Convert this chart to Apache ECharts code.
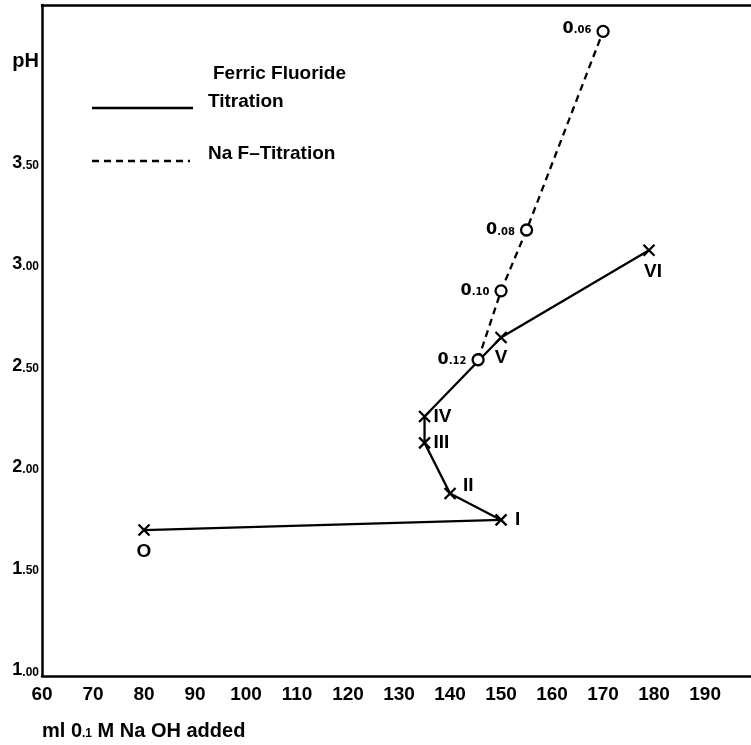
<!DOCTYPE html>
<html>
<head>
<meta charset="utf-8">
<script src="https://cdn.jsdelivr.net/npm/echarts@6/dist/echarts.min.js"></script>
<style>
html,body{margin:0;padding:0;background:#fff;}
#c{width:751px;height:745px;}
</style>
</head>
<body>
<div id="c"></div>
<script>
// ---- data ----
const titrationX = [80, 150, 140, 135, 135, 150, 179];
const titrationY = [1.69, 1.74, 1.87, 2.12, 2.25, 2.64, 3.07];
const titrationLabels = ['O', 'I', 'II', 'III', 'IV', 'V', 'VI'];
const nafX = [145.5, 150, 155, 170];
const nafY = [2.53, 2.87, 3.17, 4.15];
const nafLabels = ['0.12', '0.10', '0.08', '0.06'];
const xTicks = [60, 70, 80, 90, 100, 110, 120, 130, 140, 150, 160, 170, 180, 190];
const yTicks = [1.0, 1.5, 2.0, 2.5, 3.0, 3.5, 4.0];
const yTickText = ['1.00', '1.50', '2.00', '2.50', '3.00', '3.50', 'pH'];
const legendTitle = 'Ferric Fluoride';
const seriesNames = ['Titration', 'Na F\u2013Titration'];

// ---- layout / style ----
const FONT = 'DejaVu Sans';
const LFONT = 'Liberation Sans';
const labelPlace = {
  'O':   {position: 'bottom', distance: 4},
  'I':   {position: 'right', distance: 6},
  'II':  {position: 'right', distance: 5, offset: [0, -8]},
  'III': {position: 'right', distance: 1},
  'IV':  {position: 'right', distance: 1},
  'V':   {position: 'bottom', distance: 3},
  'VI':  {position: 'bottom', distance: 4, offset: [4, 0]}
};
const crossPath = 'path://M0,0L10,10M10,0L0,10';

const titrationData = titrationX.map((x, i) => {
  const p = labelPlace[titrationLabels[i]];
  return {
    value: [x, titrationY[i]],
    label: Object.assign({show: true, formatter: titrationLabels[i]}, p)
  };
});
const nafData = nafX.map((x, i) => ({
  value: [x, nafY[i]],
  label: {
    show: true, position: 'left', distance: 5,
    offset: i === nafX.length - 1 ? [0, -3] : [0, 0],
    formatter: '{a|' + nafLabels[i].slice(0, 1) + '}{b|' + nafLabels[i].slice(1) + '}'
  }
}));

const chart = echarts.init(document.getElementById('c'));
chart.setOption({
  animation: false,
  backgroundColor: '#fff',
  grid: {left: 42, right: 0, top: 5, bottom: 69},
  xAxis: [{
    type: 'value', min: 60, max: 199,
    axisLine: {show: true, onZero: false, lineStyle: {color: '#000', width: 2.5}},
    axisTick: {show: false},
    splitLine: {show: false},
    axisLabel: {
      customValues: xTicks, margin: 9,
      color: '#000', fontFamily: LFONT, fontWeight: 'bold', fontSize: 19
    }
  }, {
    type: 'value', min: 60, max: 199, position: 'top',
    axisLine: {show: true, onZero: false, lineStyle: {color: '#000', width: 2.5}},
    axisTick: {show: false}, axisLabel: {show: false}, splitLine: {show: false}
  }],
  yAxis: {
    type: 'value', min: 0.97, max: 4.28,
    axisLine: {show: true, onZero: false, lineStyle: {color: '#000', width: 2.5}},
    axisTick: {show: false},
    splitLine: {show: false},
    axisLabel: {
      customValues: yTicks, margin: 3, align: 'right',
      formatter: function (v) {
        const idx = yTicks.findIndex(t => Math.abs(t - v) < 1e-6);
        const s = idx >= 0 ? yTickText[idx] : '';
        if (s === 'pH') return '{p|pH}';
        return '{a|' + s.slice(0, 1) + '}{b|' + s.slice(1) + '}';
      },
      rich: {
        a: {fontFamily: LFONT, fontWeight: 'bold', fontSize: 18, color: '#000'},
        b: {fontFamily: LFONT, fontWeight: 'bold', fontSize: 12, color: '#000', padding: [5, 0, 0, 0]},
        p: {fontFamily: LFONT, fontWeight: 'bold', fontSize: 20, color: '#000'}
      }
    }
  },
  series: [{
    name: seriesNames[0],
    type: 'line',
    data: titrationData,
    symbol: crossPath,
    symbolSize: 11,
    lineStyle: {color: '#000', width: 2.3},
    itemStyle: {color: 'none', borderColor: '#000', borderWidth: 2.3},
    label: {color: '#000', fontFamily: LFONT, fontWeight: 'bold', fontSize: 19},
    z: 3
  }, {
    name: seriesNames[1],
    type: 'line',
    data: nafData,
    symbol: 'circle',
    symbolSize: 11,
    lineStyle: {color: '#000', width: 2.3, type: [7, 5]},
    itemStyle: {color: '#fff', borderColor: '#000', borderWidth: 2.3},
    label: {
      color: '#000',
      rich: {
        a: {fontFamily: FONT, fontWeight: 'bold', fontSize: 16, color: '#000'},
        b: {fontFamily: FONT, fontWeight: 'bold', fontSize: 10, color: '#000', padding: [4, 0, 0, 0]}
      }
    },
    z: 4
  }],
  graphic: [
    {type: 'line', shape: {x1: 92, y1: 108, x2: 193, y2: 108}, style: {stroke: '#000', lineWidth: 2.3}},
    {type: 'line', shape: {x1: 92, y1: 161, x2: 190, y2: 161}, style: {stroke: '#000', lineWidth: 2.3, lineDash: [7, 5]}},
    {type: 'text', left: 213, top: 64, style: {text: legendTitle, fill: '#000', font: 'bold 19px "Liberation Sans"'}},
    {type: 'text', left: 208, top: 92, style: {text: seriesNames[0], fill: '#000', font: 'bold 19px "Liberation Sans"'}},
    {type: 'text', left: 208, top: 144, style: {text: seriesNames[1], fill: '#000', font: 'bold 19px "Liberation Sans"'}},
    {type: 'text', left: 42, top: 721, style: {
      text: '{a|ml 0}{b|.1}{a| M Na OH added}',
      rich: {
        a: {fontFamily: LFONT, fontWeight: 'bold', fontSize: 20, fill: '#000'},
        b: {fontFamily: LFONT, fontWeight: 'bold', fontSize: 12, fill: '#000', padding: [5, 0, 0, 0]}
      }
    }}
  ]
});
</script>
</body>
</html>
